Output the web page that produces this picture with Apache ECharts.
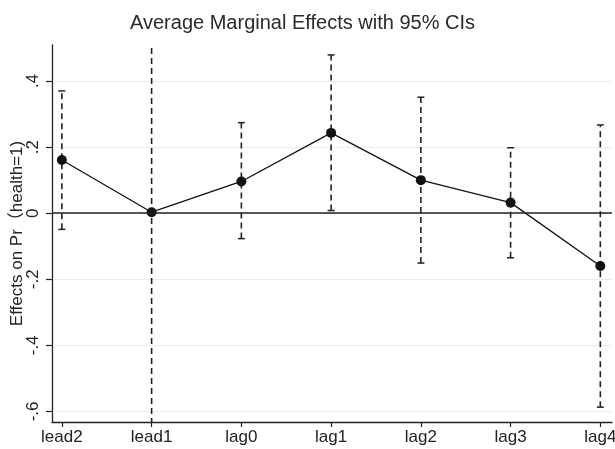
<!DOCTYPE html>
<html>
<head>
<meta charset="utf-8">
<script src="https://cdn.jsdelivr.net/npm/echarts@6/dist/echarts.min.js"></script>
<style>html,body{margin:0;padding:0;background:#fff}#c{width:615px;height:449px}</style>
</head>
<body>
<div id="c"></div>
<script>
var categories = ['lead2', 'lead1', 'lag0', 'lag1', 'lag2', 'lag3', 'lag4'];
var effects = [0.161, 0.003, 0.096, 0.243, 0.100, 0.032, -0.160];
var ciUpper = [0.370, 0.75, 0.274, 0.479, 0.351, 0.198, 0.267];
var ciLower = [-0.049, -0.85, -0.077, 0.008, -0.151, -0.135, -0.587];
var yTicks = [-0.6, -0.4, -0.2, 0, 0.2, 0.4];

var chart = echarts.init(document.getElementById('c'), null, {renderer: 'canvas'});
var idx = categories.map(function (c, i) { return i; });
var fontFam = '"Liberation Sans", Arial, "Noto Sans CJK SC", sans-serif';

function fmtY(v) {
  if (Math.abs(v) < 1e-9) return '0';
  var s = (Math.round(v * 10) / 10).toString();
  return s.replace('0.', '.');
}

var option = {
  backgroundColor: '#ffffff',
  animation: false,
  title: {
    text: 'Average Marginal Effects with 95% CIs',
    left: 125, top: 8,
    textStyle: {fontFamily: fontFam, fontSize: 20, fontWeight: 'normal', color: '#2a2a2a'}
  },
  grid: {left: 52, right: 3, top: 45, bottom: 27, containLabel: false, outerBoundsMode: 'none'},
  xAxis: {
    type: 'value', min: -0.11, max: 6.13,
    axisLine: {show: true, onZero: false, lineStyle: {color: '#222', width: 1.3}},
    axisTick: {show: true, length: 5, customValues: idx, lineStyle: {color: '#222', width: 1.2}},
    axisLabel: {
      customValues: idx, margin: 7,
      fontFamily: fontFam, fontSize: 17, color: '#222',
      formatter: function (v) { return categories[Math.round(v)]; }
    },
    splitLine: {show: false}
  },
  yAxis: {
    type: 'value', min: -0.632, max: 0.509,
    name: 'Effects on Pr（health=1)', nameLocation: 'middle', nameGap: 26,
    nameMoveOverlap: false,
    nameTextStyle: {fontFamily: fontFam, fontSize: 17, color: '#222'},
    axisLine: {show: true, onZero: false, lineStyle: {color: '#222', width: 1.3}},
    axisTick: {show: true, length: 6, customValues: yTicks, lineStyle: {color: '#222', width: 1.2}},
    axisLabel: {
      customValues: yTicks, rotate: 90, margin: 10,
      fontFamily: fontFam, fontSize: 17, color: '#222',
      formatter: fmtY
    },
    splitLine: {show: true, lineStyle: {color: '#ececec', width: 1}}
  },
  series: [
    {
      type: 'custom',
      clip: true,
      z: 2,
      data: idx.map(function (i) { return [i, ciLower[i], ciUpper[i]]; }),
      encode: {x: 0, y: [1, 2]},
      renderItem: function (params, api) {
        var x = api.value(0);
        var lo = api.coord([x, api.value(1)]);
        var hi = api.coord([x, api.value(2)]);
        var hw = 3.5;
        var st = {stroke: '#222', lineWidth: 1.5};
        return {
          type: 'group',
          children: [
            {type: 'line', shape: {x1: lo[0], y1: lo[1], x2: hi[0], y2: hi[1]},
             style: {stroke: '#222', lineWidth: 1.6, lineDash: [6, 4]}},
            {type: 'line', shape: {x1: hi[0] - hw, y1: hi[1], x2: hi[0] + hw, y2: hi[1]}, style: st},
            {type: 'line', shape: {x1: lo[0] - hw, y1: lo[1], x2: lo[0] + hw, y2: lo[1]}, style: st}
          ]
        };
      }
    },
    {
      type: 'line',
      z: 3,
      data: idx.map(function (i) { return [i, effects[i]]; }),
      symbol: 'circle', symbolSize: 10,
      itemStyle: {color: '#111'},
      lineStyle: {color: '#111', width: 1.3},
      markLine: {
        silent: true, symbol: 'none', label: {show: false},
        lineStyle: {color: '#222', width: 1.5, type: 'solid'},
        data: [{yAxis: 0}]
      }
    }
  ]
};
chart.setOption(option);
</script>
</body>
</html>
